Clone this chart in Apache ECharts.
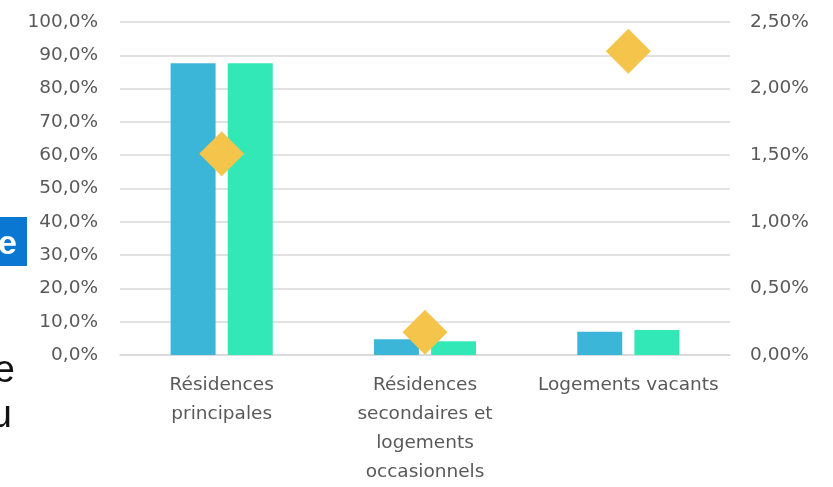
<!DOCTYPE html>
<html>
<head>
<meta charset="utf-8">
<script src="https://cdn.jsdelivr.net/npm/echarts@6/dist/echarts.min.js"></script>
<style>
html,body{margin:0;padding:0;background:#fff;}
#chart{width:833px;height:487px;}
</style>
</head>
<body>
<div id="chart"></div>
<script>
// Data
const categories = ['Résidences\nprincipales', 'Résidences\nsecondaires et\nlogements\noccasionnels', 'Logements vacants'];
const seriesA = [87.6, 4.7, 7.0];      // blue bars, left axis (%)
const seriesB = [87.6, 4.1, 7.5];      // green bars, left axis (%)
const seriesC = [1.51, 0.17, 2.28];    // diamonds, right axis (%)
const leftTicks = {min: 0, max: 100, interval: 10};
const rightTicks = {min: 0, max: 2.5, interval: 0.5};

const chart = echarts.init(document.getElementById('chart'), null, {renderer: 'canvas'});
const labelColor = '#595959';
const fontFamily = 'DejaVu Sans';
const fs = 18.5;
const option = {
  backgroundColor: '#ffffff',
  animation: false,
  grid: {left: 120, right: 103, top: 22, bottom: 132, containLabel: false},
  xAxis: {
    type: 'category',
    data: categories,
    axisLine: {show: true, lineStyle: {color: '#d9d9d9', width: 1.5}},
    axisTick: {show: false},
    axisLabel: {
      interval: 0, color: labelColor, fontFamily: fontFamily, fontSize: fs,
      lineHeight: 29, margin: 16
    }
  },
  yAxis: [
    {
      type: 'value', position: 'left',
      min: leftTicks.min, max: leftTicks.max, interval: leftTicks.interval,
      axisLine: {show: false}, axisTick: {show: false},
      splitLine: {show: true, lineStyle: {color: '#d9d9d9', width: 1.5}},
      axisLabel: {
        color: labelColor, fontFamily: fontFamily, fontSize: fs, margin: 22,
        formatter: v => v.toFixed(1).replace('.', ',') + '%'
      }
    },
    {
      type: 'value', position: 'right',
      min: rightTicks.min, max: rightTicks.max, interval: rightTicks.interval,
      axisLine: {show: false}, axisTick: {show: false},
      splitLine: {show: false},
      axisLabel: {
        color: labelColor, fontFamily: fontFamily, fontSize: fs, margin: 20,
        formatter: v => v.toFixed(2).replace('.', ',') + '%'
      }
    }
  ],
  series: [
    {
      name: 'Série 1', type: 'bar', yAxisIndex: 0, data: seriesA,
      barWidth: 45, barGap: '27%',
      itemStyle: {color: '#3cb6d8'}
    },
    {
      name: 'Série 2', type: 'bar', yAxisIndex: 0, data: seriesB,
      barWidth: 45, barGap: '27%',
      itemStyle: {color: '#33e8b7'}
    },
    {
      name: 'Série 3', type: 'scatter', yAxisIndex: 1, data: seriesC,
      symbol: 'diamond', symbolSize: 45, z: 5,
      itemStyle: {color: '#f5c54b', opacity: 1}
    }
  ],
  graphic: [
    {type: 'rect', left: 0, top: 217, shape: {width: 27, height: 49}, style: {fill: '#0a78d2'}},
    {type: 'text', x: 17, y: 245, style: {text: 'e', fill: '#ffffff', font: 'bold 34px "Liberation Sans"', align: 'right', verticalAlign: 'middle'}},
    {type: 'text', x: 15, y: 372, style: {text: 'e', fill: '#111111', font: '38px "Liberation Sans"', align: 'right', verticalAlign: 'middle'}},
    {type: 'text', x: 12, y: 417, style: {text: 'u', fill: '#111111', font: '38px "Liberation Sans"', align: 'right', verticalAlign: 'middle'}}
  ]
};
chart.setOption(option);
</script>
</body>
</html>
